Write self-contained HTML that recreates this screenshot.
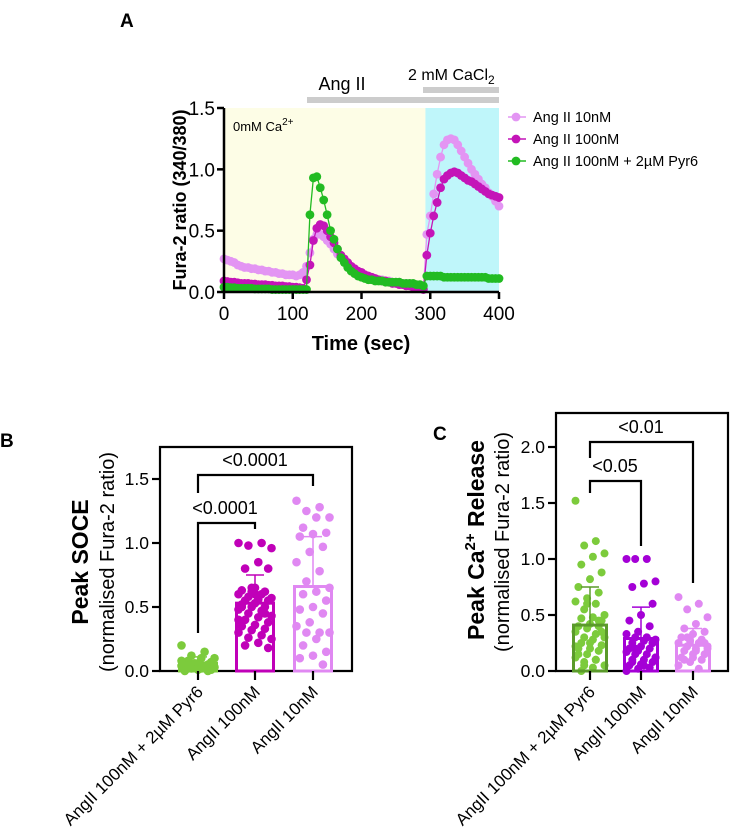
<!DOCTYPE html>
<html><head><meta charset="utf-8">
<style>
html,body{margin:0;padding:0;background:#fff;}
svg{display:block;font-family:"Liberation Sans",Arial,sans-serif;}
</style></head>
<body>
<svg id="fig" width="738" height="833" viewBox="0 0 738 833" xmlns="http://www.w3.org/2000/svg">
<text x="120" y="27" font-size="19" font-weight="bold">A</text>
<text x="0" y="447" font-size="19" font-weight="bold">B</text>
<text x="433" y="440" font-size="19" font-weight="bold">C</text>
<g id="ga"></g>
<g id="gb"></g>
<g id="gc"></g>
</svg>
<script>
// ---- Panel A data ----
const timeA = [];
for (let t = 0; t <= 400; t += 5) timeA.push(t);
const angII10 = [0.27,0.26,0.25,0.24,0.22,0.21,0.2,0.2,0.19,0.19,0.18,0.18,0.17,0.17,0.16,0.16,0.15,0.15,0.14,0.14,0.14,0.13,0.14,0.16,0.21,0.32,0.43,0.47,0.47,0.45,0.42,0.39,0.35,0.31,0.28,0.25,0.22,0.2,0.18,0.16,0.15,0.14,0.13,0.12,0.11,0.1,0.1,0.09,0.09,0.08,0.08,0.08,0.07,0.07,0.07,0.06,0.05,0.04,0.03,0.47,0.62,0.8,0.96,1.1,1.2,1.24,1.25,1.24,1.2,1.15,1.1,1.05,1.0,0.96,0.92,0.88,0.85,0.81,0.78,0.74,0.7];
const angII100 = [0.09,0.085,0.08,0.08,0.075,0.07,0.07,0.07,0.065,0.065,0.06,0.06,0.06,0.055,0.055,0.05,0.05,0.05,0.045,0.045,0.04,0.04,0.035,0.03,0.1,0.22,0.42,0.52,0.55,0.54,0.5,0.45,0.4,0.35,0.3,0.27,0.24,0.21,0.19,0.17,0.16,0.14,0.13,0.12,0.11,0.1,0.09,0.09,0.08,0.07,0.07,0.06,0.06,0.05,0.05,0.04,0.04,0.03,0.02,0.3,0.48,0.62,0.73,0.85,0.92,0.95,0.97,0.98,0.97,0.95,0.93,0.91,0.9,0.88,0.86,0.84,0.82,0.8,0.79,0.78,0.77];
const angII100Pyr6 = [0.04,0.04,0.035,0.035,0.03,0.03,0.03,0.03,0.03,0.025,0.025,0.025,0.025,0.025,0.02,0.02,0.02,0.02,0.02,0.02,0.02,0.02,0.02,0.02,0.02,0.63,0.93,0.94,0.85,0.75,0.63,0.5,0.43,0.35,0.28,0.24,0.2,0.17,0.15,0.13,0.12,0.11,0.1,0.1,0.09,0.09,0.09,0.08,0.08,0.08,0.08,0.08,0.07,0.07,0.07,0.07,0.06,0.06,0.05,0.13,0.13,0.13,0.13,0.13,0.12,0.12,0.12,0.12,0.12,0.12,0.12,0.12,0.12,0.12,0.12,0.12,0.12,0.11,0.11,0.11,0.11];
const yTicksA = [0, 0.5, 1.0, 1.5];
const yTickLabelsA = ["0.0","0.5","1.0","1.5"];
const xTicksA = [0, 100, 200, 300, 400];
const seriesNamesA = ["Ang II 10nM","Ang II 100nM","Ang II 100nM + 2\u00b5M Pyr6"];

// ---- Panel B data ----
const catsB = ["AngII 100nM + 2\u00b5M Pyr6","AngII 100nM","AngII 10nM"];
const meansB = [0.06, 0.53, 0.66];
const sdB = [0.05, 0.22, 0.39];
const ptsB0 = [0.2,0.15,0.12,0.1,0.1,0.08,0.07,0.06,0.05,0.05,0.05,0.04,0.04,0.03,0.03,0.02,0.02,0.01,0.01,0.0,0.0,0.06,0.08,0.03,0.02];
const ptsB1 = [1.0,1.0,0.98,0.96,0.85,0.8,0.8,0.65,0.63,0.62,0.62,0.6,0.6,0.58,0.57,0.56,0.55,0.55,0.53,0.52,0.5,0.5,0.48,0.47,0.45,0.43,0.42,0.4,0.38,0.36,0.35,0.33,0.32,0.3,0.28,0.26,0.25,0.22,0.2,0.18,0.6,0.5,0.45,0.65,0.4];
const ptsB2 = [1.33,1.28,1.25,1.2,1.2,1.12,1.08,1.07,1.05,0.97,0.93,0.85,0.78,0.7,0.65,0.62,0.6,0.55,0.5,0.48,0.45,0.38,0.35,0.3,0.3,0.3,0.25,0.2,0.15,0.12,0.1,0.05];
const yTicksB = [0, 0.5, 1.0, 1.5];
const pLabelsB = ["<0.0001","<0.0001"];

// ---- Panel C data ----
const catsC = ["AngII 100nM + 2\u00b5M Pyr6","AngII 100nM","AngII 10nM"];
const meansC = [0.41, 0.29, 0.23];
const sdC = [0.34, 0.28, 0.15];
const ptsC0 = [1.52,1.16,1.12,1.05,1.02,0.95,0.88,0.82,0.75,0.7,0.65,0.62,0.6,0.55,0.5,0.48,0.47,0.45,0.42,0.4,0.4,0.38,0.35,0.33,0.3,0.3,0.28,0.25,0.23,0.2,0.2,0.18,0.15,0.12,0.1,0.08,0.05,0.03,0.0,0.35,0.25,0.15,0.45,0.6,0.22,0.1,0.05];
const ptsC1 = [1.0,1.0,1.0,0.8,0.78,0.75,0.6,0.5,0.45,0.4,0.35,0.33,0.3,0.3,0.28,0.27,0.25,0.25,0.22,0.2,0.2,0.18,0.17,0.15,0.15,0.12,0.1,0.1,0.08,0.06,0.05,0.03,0.02,0.0,0.3,0.2,0.12,0.05,0.08,0.25];
const ptsC2 = [0.66,0.6,0.55,0.48,0.42,0.38,0.35,0.33,0.3,0.28,0.27,0.25,0.25,0.22,0.2,0.2,0.18,0.15,0.15,0.12,0.1,0.08,0.05,0.02,0.3,0.22,0.18,0.1,0.25,0.12];
const yTicksC = [0, 0.5, 1.0, 1.5, 2.0];
const pLabelsC = ["<0.05","<0.01"];

const NS = "http://www.w3.org/2000/svg";
function mk(parent, tag, attrs, text) {
  const el = document.createElementNS(NS, tag);
  for (const k in attrs) el.setAttribute(k, attrs[k]);
  if (text !== undefined) el.textContent = text;
  parent.appendChild(el);
  return el;
}

// ===== Panel A =====
(function(){
  const g = document.getElementById('ga');
  const x = t => 224 + t * (275 / 400);
  const y = v => 292 - v * (184 / 1.5);
  let r = mk(g,'rect',{x:x(0),y:y(1.5),width:x(293)-x(0),height:y(0)-y(1.5),fill:'#fdfde6'});
  
  
  r = mk(g,'rect',{x:x(293),y:y(1.5),width:x(400)-x(293),height:y(0)-y(1.5),fill:'#bff6fa'});
  
  
  let t = mk(g,'text',{x:233,y:131,'font-size':13},'0mM Ca');
  mk(t,'tspan',{dy:-6,'font-size':10},'2+');
  
  
  r = mk(g,'rect',{x:307,y:97,width:192,height:6,fill:'#cccccc'});
  
  
  r = mk(g,'rect',{x:423,y:87,width:76,height:6,fill:'#cccccc'});
  
  
  t = mk(g,'text',{x:342,y:90,'font-size':18,'text-anchor':'middle'},'Ang II');
  
  
  t = mk(g,'text',{x:408,y:80,'font-size':16},'2 mM CaCl');
  mk(t,'tspan',{dy:4,'font-size':12},'2');
  
  
  const colors = ['#e395f3','#c414b8','#22bb22'];
  const data = [angII10, angII100, angII100Pyr6];
  data.forEach((s, si) => {
    const sg = mk(g,'g',{});
    
    
    const d = s.map((v,i)=>(i?'L':'M')+x(timeA[i]).toFixed(1)+','+y(v).toFixed(1)).join('');
    mk(sg,'path',{d:d,fill:'none',stroke:colors[si],'stroke-width':1.3});
    s.forEach((v,i)=>{
      const c = mk(sg,'circle',{cx:x(timeA[i]),cy:y(v),r:4.4,fill:colors[si]});
      
      
    });
  });
  mk(g,'line',{x1:x(0),y1:y(1.5),x2:x(0),y2:y(0)+1,stroke:'#000','stroke-width':2.5});
  mk(g,'line',{x1:x(0)-1,y1:y(0),x2:x(400),y2:y(0),stroke:'#000','stroke-width':2.5});
  yTicksA.forEach((v,i)=>{
    mk(g,'line',{x1:x(0)-7,y1:y(v),x2:x(0),y2:y(v),stroke:'#000','stroke-width':2.5});
    const tt = mk(g,'text',{x:x(0)-9,y:y(v)+7,'font-size':19,'text-anchor':'end'},yTickLabelsA[i]);
    
    
  });
  xTicksA.forEach(v=>{
    mk(g,'line',{x1:x(v),y1:y(0),x2:x(v),y2:y(0)+7,stroke:'#000','stroke-width':2.5});
    const tt = mk(g,'text',{x:x(v),y:320,'font-size':19,'text-anchor':'middle'},String(v));
    
    
  });
  t = mk(g,'text',{x:361,y:350,'font-size':20,'font-weight':'bold','text-anchor':'middle'},'Time (sec)');
  
  
  t = mk(g,'text',{x:0,y:0,'font-size':18,'font-weight':'bold','text-anchor':'middle',transform:'translate(186,200) rotate(-90)'},'Fura-2 ratio (340/380)');
  
  
  seriesNamesA.forEach((n,i)=>{
    const ly = 117 + i*22;
    const lg = mk(g,'g',{});
    
    
    mk(lg,'line',{x1:508,y1:ly,x2:526,y2:ly,stroke:colors[i],'stroke-width':1.5});
    mk(lg,'circle',{cx:516,cy:ly,r:4.4,fill:colors[i]});
    mk(lg,'text',{x:533,y:ly+5,'font-size':14.5},n);
  });
})();

// ===== Bar panels =====
function barPanel(gid, cfg){
  const g = document.getElementById(gid);
  const y = v => cfg.y0 - v * cfg.ppu;
  const fr = mk(g,'path',{d:`M${cfg.left},${y(0)} L${cfg.left},${cfg.top} L${cfg.right},${cfg.top} L${cfg.right},${y(0)} Z`,fill:'none',stroke:'#000','stroke-width':2.2});
  
  
  cfg.means.forEach((m,i)=>{
    const cx = cfg.cx[i], hw = cfg.bw/2;
    const bg = mk(g,'g',{});
    
    
    cfg.pts[i].forEach((v,j)=>{
      const off = (((j*7)%11) - 5) / 5 * (hw - 2);
      mk(bg,'circle',{cx:cx+off,cy:y(v),r:cfg.pr,fill:cfg.ptCol[i]});
    });
    mk(bg,'rect',{x:cx-hw,y:y(m),width:cfg.bw,height:y(0)-y(m),fill:'none',stroke:cfg.barCol[i],'stroke-width':3});
    mk(bg,'line',{x1:cx,y1:y(m),x2:cx,y2:y(m+cfg.sd[i]),stroke:cfg.barCol[i],'stroke-width':1.5});
    mk(bg,'line',{x1:cx-9,y1:y(m+cfg.sd[i]),x2:cx+9,y2:y(m+cfg.sd[i]),stroke:cfg.barCol[i],'stroke-width':1.5});
    mk(g,'line',{x1:cx,y1:y(0),x2:cx,y2:y(0)+9,stroke:'#000','stroke-width':2.2});
    const lab = mk(g,'text',{x:0,y:0,'font-size':17,'text-anchor':'end',transform:`translate(${cx+6},${y(0)+22}) rotate(-45)`},cfg.cats[i]);
    
    
  });
  cfg.ticks.forEach(v=>{
    mk(g,'line',{x1:cfg.left-8,y1:y(v),x2:cfg.left,y2:y(v),stroke:'#000','stroke-width':2.2});
    const tt = mk(g,'text',{x:cfg.left-11,y:y(v)+6,'font-size':17.5,'text-anchor':'end'},v.toFixed(1));
    
    
  });
  cfg.brackets.forEach((b,k)=>{
    const bk = mk(g,'g',{});
    
    
    mk(bk,'path',{d:`M${cfg.cx[b.a]},${b.y1} L${cfg.cx[b.a]},${b.y} L${cfg.cx[b.b]},${b.y} L${cfg.cx[b.b]},${b.y2}`,fill:'none',stroke:'#000','stroke-width':2.2});
    mk(bk,'text',{x:b.lx,y:b.y-9,'font-size':18,'text-anchor':'middle'},cfg.plabels[k]);
  });
  const t1 = mk(g,'text',{x:0,y:0,'font-size':cfg.tfs,'font-weight':'bold','text-anchor':'middle',transform:`translate(${cfg.tx},${cfg.ty}) rotate(-90)`});
  
  
  t1.textContent = cfg.title[0];
  if (cfg.title.length > 1) { mk(t1,'tspan',{dy:-9,'font-size':15},cfg.title[1]); mk(t1,'tspan',{dy:9},cfg.title[2]); }
  const t2 = mk(g,'text',{x:0,y:0,'font-size':20,'text-anchor':'middle',transform:`translate(${cfg.tx+cfg.sdx},${cfg.sy}) rotate(-90)`},'(normalised Fura-2 ratio)');
  
  
}

barPanel('gb',{
  y0:671, ppu:128, top:447, left:160, right:352, cx:[198,255,313], bw:37, pr:4.3,
  means:meansB, sd:sdB, pts:[ptsB0,ptsB1,ptsB2], cats:catsB, ticks:yTicksB, plabels:pLabelsB,
  ptCol:['#7ccb3c','#c000b8','#e088f2'], barCol:['#7ccb3c','#c000b8','#e088f2'],
  brackets:[{a:0,b:1,y:523,y1:633,y2:529,lx:225},{a:0,b:2,y:475,y1:493,y2:486,lx:255}],
  tx:88, ty:562, tfs:23, sdx:26, sy:562, title:['Peak SOCE']
});
barPanel('gc',{
  y0:671, ppu:112, top:413, left:556, right:728, cx:[590,641,693], bw:33, pr:4,
  means:meansC, sd:sdC, pts:[ptsC0,ptsC1,ptsC2], cats:catsC, ticks:yTicksC, plabels:pLabelsC,
  ptCol:['#7ccb3c','#a400d6','#e088f2'], barCol:['#5a9a2a','#a400d6','#e088f2'],
  brackets:[{a:0,b:1,y:481,y1:493,y2:546,lx:615},{a:0,b:2,y:442,y1:458,y2:583,lx:641}],
  tx:484, ty:540, tfs:23, sdx:25, sy:542, title:['Peak Ca','2+',' Release']
});
</script>
</body></html>
